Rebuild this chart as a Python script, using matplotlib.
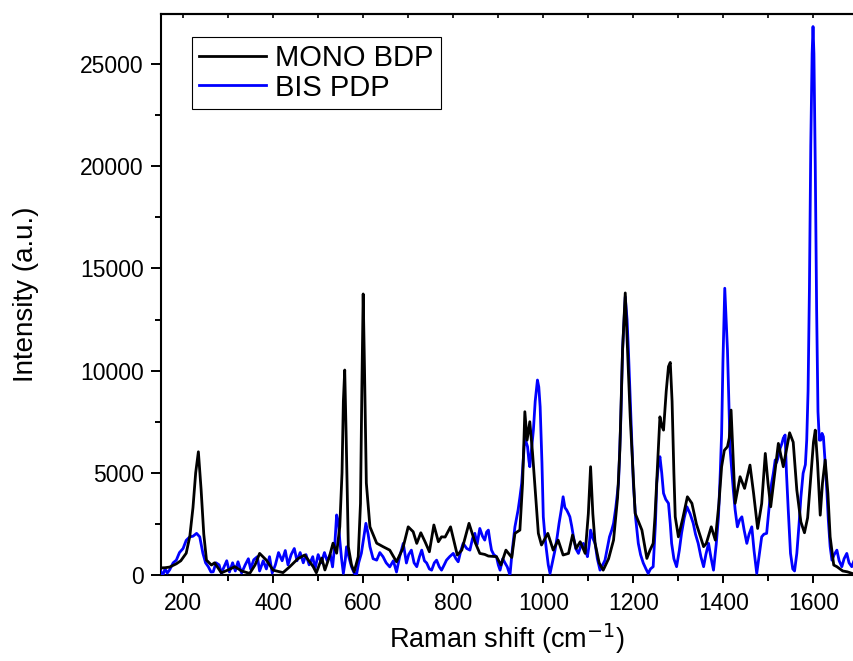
#!/bin/python3

# ---   IMPORTS   --- #
# ------------------- #
import matplotlib
matplotlib.use('Agg')
import matplotlib.pyplot as plt
from matplotlib.ticker import MultipleLocator

# ---   DATA   --- #
# ---------------- #
# MONO BDP spectrum (Raman shift in cm-1, intensity in a.u.)
mono_shift = [
    150, 160, 170, 185, 195, 207, 215, 222, 228, 234,
    240, 246, 252, 263, 270, 285, 300, 315, 330, 348,
    360, 370, 385, 400, 422, 437, 455, 470, 489, 496,
    508, 515, 525, 533, 541, 548, 553, 556, 559, 562,
    567, 574, 580, 589, 594, 597, 600, 603, 607, 615,
    630, 644, 659, 674, 688, 700, 711, 719, 728, 738,
    747, 757, 767, 774, 782, 794, 809, 819, 835, 848,
    859, 870, 878, 896, 906, 917, 930, 937, 948, 954,
    959, 964, 970, 976, 981, 989, 996, 1010, 1022, 1033,
    1044, 1056, 1065, 1073, 1082, 1093, 1100, 1105, 1110, 1115,
    1124, 1133, 1145, 1156, 1165, 1170, 1176, 1182, 1188, 1193,
    1204, 1219, 1230, 1237, 1244, 1248, 1255, 1259, 1263, 1267,
    1273, 1278, 1282, 1286, 1290, 1293, 1300, 1310, 1320, 1330,
    1340, 1356, 1362, 1373, 1382, 1390, 1396, 1402, 1409, 1413,
    1417, 1421, 1426, 1437, 1447, 1459, 1467, 1476, 1485, 1493,
    1499, 1505, 1514, 1522, 1533, 1547, 1555, 1563, 1572, 1580,
    1587, 1593, 1600, 1604, 1609, 1615, 1620, 1626, 1632, 1637,
    1645, 1652, 1665, 1675, 1690,
]
mono_counts = [
    350, 360, 390, 550, 700, 1070, 1900, 3300, 5000, 6030,
    4200, 2000, 730, 490, 600, 110, 250, 410, 200, 80,
    500, 1060, 730, 240, 120, 410, 800, 980, 410, 110,
    830, 250, 900, 1560, 1070, 2360, 5000, 8500, 10030, 7000,
    1390, 500, 160, 900, 3500, 9000, 13750, 10000, 4500, 2360,
    1560, 1390, 1220, 650, 1300, 2360, 2120, 1550, 2070, 1600,
    1140, 2450, 1630, 1870, 1860, 2360, 980, 1220, 2530, 1630,
    1060, 1010, 930, 900, 490, 1220, 860, 2040, 2200, 4500,
    7990, 6600, 7500, 6000, 4490, 2040, 1470, 2040, 1220, 1710,
    980, 1060, 1960, 1300, 1630, 1060, 3000, 5300, 3000, 1550,
    600, 240, 800, 1710, 3800, 6120, 11000, 13800, 10500, 7740,
    3020, 2200, 815, 1220, 1550, 2850, 6000, 7740, 7300, 7090,
    9000, 10200, 10400, 8500, 5000, 2850, 1870, 2800, 3830, 3510,
    2500, 1390, 1550, 2360, 1710, 3500, 5300, 6100, 6280, 6700,
    8070, 6000, 3510, 4810, 4240, 5380, 4000, 2280, 3500, 5950,
    4500, 3340, 5000, 6440, 5300, 6960, 6500, 4160, 2600, 2070,
    2800, 4490, 6500, 7090, 5500, 2930, 4500, 5630, 4000, 1870,
    490, 410, 200, 160, 50,
]

# BIS PDP spectrum
bis_shift = [
    150, 155, 160, 165, 170, 178, 185, 192, 200, 207,
    215, 222, 230, 237, 244, 250, 256, 262, 267, 273,
    280, 285, 290, 297, 303, 310, 316, 322, 330, 338,
    345, 350, 357, 365, 370, 378, 385, 392, 398, 405,
    412, 420, 427, 433, 440, 447, 453, 460, 467, 473,
    480, 488, 493, 500, 507, 514, 520, 527, 532, 537,
    541, 545, 548, 552, 556, 560, 563, 568, 574, 580,
    585, 590, 596, 601, 606, 611, 615, 622, 630, 637,
    644, 651, 659, 667, 674, 681, 689, 696, 701, 707,
    713, 719, 725, 730, 736, 741, 747, 752, 758, 763,
    769, 774, 780, 785, 792, 800, 806, 811, 817, 822,
    830, 837, 843, 848, 853, 859, 865, 870, 874, 878,
    882, 885, 890, 896, 900, 904, 910, 915, 920, 926,
    931, 937, 944, 948, 952, 956, 959, 962, 965, 968,
    970, 974, 978, 982, 987, 990, 993, 997, 1000, 1004,
    1007, 1011, 1015, 1020, 1026, 1031, 1035, 1040, 1044, 1048,
    1052, 1056, 1059, 1063, 1067, 1072, 1078, 1083, 1089, 1094,
    1098, 1102, 1105, 1110, 1115, 1120, 1126, 1132, 1137, 1142,
    1147, 1152, 1156, 1161, 1167, 1172, 1176, 1182, 1186, 1189,
    1194, 1200, 1205, 1211, 1216, 1222, 1228, 1233, 1238, 1244,
    1249, 1252, 1256, 1259, 1263, 1267, 1272, 1278, 1282, 1285,
    1290, 1296, 1302, 1307, 1313, 1319, 1326, 1333, 1338, 1344,
    1350, 1356, 1361, 1367, 1372, 1378, 1384, 1389, 1393, 1396,
    1399, 1403, 1406, 1409, 1412, 1415, 1419, 1422, 1426, 1431,
    1436, 1441, 1446, 1452, 1457, 1463, 1468, 1474, 1479, 1485,
    1490, 1496, 1501, 1507, 1511, 1515, 1518, 1522, 1526, 1530,
    1533, 1537, 1540, 1544, 1549, 1554, 1558, 1563, 1568, 1572,
    1577, 1582, 1585, 1588, 1591, 1594, 1597, 1599, 1601, 1604,
    1607, 1610, 1613, 1616, 1619, 1622, 1626, 1630, 1633, 1637,
    1641, 1646, 1652, 1657, 1663, 1668, 1674, 1679, 1685, 1690,
]
bis_counts = [
    200, 0, 300, 100, 250, 600, 730, 1100, 1300, 1700,
    1870, 1900, 2040, 1870, 1070, 600, 410, 150, 160, 600,
    500, 100, 350, 700, 150, 600, 200, 650, 100, 500,
    800, 300, 750, 900, 200, 700, 300, 900, 100, 500,
    1100, 700, 1200, 500, 1000, 1300, 700, 1100, 600, 1000,
    500, 900, 300, 1000, 600, 1100, 700, 1000, 400, 1500,
    2940, 2600, 1710, 800, 80, 700, 1380, 900, 410, 100,
    0, 600, 1070, 1800, 2530, 2000, 1390, 800, 730, 1100,
    900, 600, 400, 700, 150, 900, 1550, 590, 1000, 1220,
    600, 410, 900, 1220, 700, 590, 300, 240, 600, 730,
    400, 240, 500, 730, 900, 1060, 800, 650, 1200, 1550,
    1300, 1220, 1800, 2040, 1500, 2280, 1900, 1710, 2100, 2200,
    1600, 1220, 1000, 900, 500, 240, 800, 590, 400, 0,
    1200, 2360, 3180, 3800, 4490, 5800, 6770, 6500, 6280, 5600,
    5300, 6200, 7090, 8500, 9540, 9200, 8230, 5500, 2850, 1800,
    1220, 500, 80, 600, 1220, 1900, 2530, 3200, 3830, 3300,
    3180, 3000, 2850, 2400, 1870, 1300, 1060, 1400, 1550, 1200,
    900, 1500, 2200, 1800, 1550, 800, 240, 500, 730, 1300,
    1870, 2200, 2530, 3300, 4490, 7500, 11000, 13610, 12500, 11000,
    8000, 4490, 2800, 1550, 1000, 590, 300, 80, 300, 410,
    2500, 4490, 5500, 5790, 5000, 4000, 3700, 3510, 2500, 1550,
    800, 410, 1200, 2040, 2800, 3340, 3000, 2530, 2000, 1550,
    900, 410, 1000, 1550, 900, 240, 1500, 2850, 5000, 6930,
    10500, 14030, 12500, 11000, 8500, 6120, 5000, 4160, 3200, 2360,
    2700, 2850, 2200, 1550, 2000, 2360, 1200, 80, 900, 1870,
    2000, 2040, 3200, 4490, 5000, 5630, 5500, 5790, 6200, 6440,
    6700, 6850, 5000, 3180, 1060, 300, 200, 1060, 2500, 3800,
    4980, 5400, 6600, 9000, 14000, 21000, 25500, 26830, 25500, 20000,
    13000, 8000, 6600, 6600, 6930, 6770, 5480, 4000, 2690, 1400,
    730, 1000, 1220, 700, 410, 800, 1060, 600, 410, 700,
]

# ---   MAIN   --- #
# ---------------- #
if __name__ == "__main__":
    plt.rcParams['font.family'] = ['Liberation Sans', 'DejaVu Sans']
    fig = plt.figure(figsize=(8.54, 6.61), dpi=100)
    ax = fig.add_axes([0.188, 0.130, 0.812, 0.849])

    # Plot spectra (black drawn on top)
    l_bis, = ax.plot(bis_shift, bis_counts, color='#0000ff', lw=2.0, zorder=3)
    l_mono, = ax.plot(mono_shift, mono_counts, color='black', lw=2.0, zorder=4)

    # Legend
    leg = ax.legend(
        [l_mono, l_bis], ['MONO BDP', 'BIS PDP'],
        loc='upper left', bbox_to_anchor=(0.045, 0.959), borderaxespad=0,
        fontsize=21, fancybox=False, framealpha=1, edgecolor='black',
        handlelength=2.3, handletextpad=0.3, labelspacing=0.05,
        borderpad=0.25
    )
    leg.get_frame().set_linewidth(0.8)

    # Axes limits and ticks
    ax.set_xlim(150, 1690)
    ax.set_ylim(0, 27450)
    ax.xaxis.set_major_locator(MultipleLocator(200))
    ax.xaxis.set_minor_locator(MultipleLocator(100))
    ax.yaxis.set_major_locator(MultipleLocator(5000))
    ax.yaxis.set_minor_locator(MultipleLocator(2500))
    ax.tick_params(axis='both', which='major', direction='out',
                   width=1.4, labelsize=16.5)
    ax.tick_params(axis='x', which='major', length=6, pad=6.5)
    ax.tick_params(axis='y', which='major', length=7, pad=5)
    ax.tick_params(axis='both', which='minor', direction='out', length=4,
                   width=1.4)
    top = ax.secondary_xaxis('top')
    top.xaxis.set_major_locator(MultipleLocator(100))
    top.tick_params(direction='in', length=3, width=1.2, labeltop=False)

    for side in ['left', 'bottom', 'top']:
        ax.spines[side].set_linewidth(1.5)
    top.spines['top'].set_linewidth(1.5)
    ax.spines['right'].set_visible(False)

    # Labels
    ax.set_xlabel('Raman shift (cm$^{-1}$)', fontsize=19.5)
    ax.set_ylabel('Intensity (a.u.)', fontsize=20)
    ax.xaxis.set_label_coords(0.5, -0.082)
    ax.yaxis.set_label_coords(-0.176, 0.5)

    plt.savefig('out.png', dpi=100)
